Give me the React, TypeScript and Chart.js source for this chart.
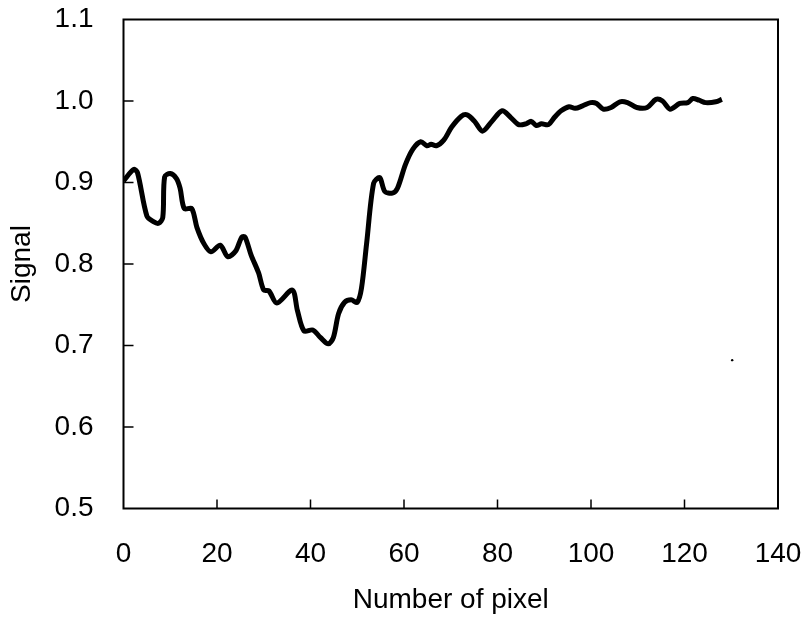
import React, { useEffect, useRef } from "react";
import { Chart, registerables } from "chart.js";

Chart.register(...registerables);

const pixelIndex = [
  0, 2.2, 3, 5, 6.4, 7.5, 8.4, 8.8, 10, 11.3, 12.1, 13, 14.6, 15.7, 17.2, 18.7,
  20.7, 22.3, 24, 25.3, 26, 27.3, 28.9, 30, 31.1, 32.8, 36.1, 37.2, 38.6, 40.5,
  42.1, 43.8, 44.9, 46, 47.3, 48.7, 50, 50.9, 52, 53.5, 54.8, 55.9, 57.5, 58.6,
  60.3, 61.9, 63.6, 64.9, 65.8, 66.9, 68.5, 70.2, 72.2, 73.5, 75.1, 76.8, 78.8,
  81, 82.8, 84.5, 86.1, 87.2, 88.3, 89.4, 90.9, 92.2, 93.6, 95.3, 96.6, 98.2,
  99.9, 101.2, 102.6, 104.3, 106.2, 107.8, 109.8, 112, 113.9, 115.3, 116.9, 119,
  120.7, 121.8, 123.1, 124.5, 126.7, 128,
];

const signal = [
  0.902, 0.916, 0.912, 0.859, 0.852, 0.85, 0.857, 0.907, 0.911, 0.905, 0.893,
  0.868, 0.868, 0.845, 0.825, 0.815, 0.823, 0.809, 0.816, 0.833, 0.833, 0.811,
  0.789, 0.768, 0.767, 0.752, 0.768, 0.743, 0.718, 0.719, 0.71, 0.702, 0.71,
  0.739, 0.753, 0.756, 0.753, 0.77, 0.825, 0.899, 0.906, 0.889, 0.887, 0.893,
  0.922, 0.941, 0.95, 0.945, 0.947, 0.945, 0.952, 0.968, 0.981, 0.983, 0.975,
  0.963, 0.975, 0.988, 0.98, 0.971, 0.972, 0.975, 0.97, 0.972, 0.971, 0.98,
  0.988, 0.993, 0.991, 0.994, 0.998, 0.997, 0.99, 0.992, 0.999, 0.998, 0.992,
  0.992, 1.002, 1.0, 0.99, 0.997, 0.998, 1.003, 1.001, 0.998, 0.999, 1.002,
];

const strayX = [130.2];
const strayY = [0.682];

const xTicks = [0, 20, 40, 60, 80, 100, 120, 140];
const yTicks = [0.5, 0.6, 0.7, 0.8, 0.9, 1.0, 1.1];

const FONT = "'Liberation Sans', Arial, sans-serif";

const framePlugin = {
  id: "frame",
  afterDraw(chart: any) {
    const { ctx, chartArea } = chart;
    const { left, right, top, bottom } = chartArea;
    const xs = chart.scales.x;
    const ys = chart.scales.y;
    ctx.save();
    ctx.strokeStyle = "#000";
    ctx.lineWidth = 2;
    ctx.strokeRect(left, top, right - left, bottom - top);
    ctx.lineWidth = 1.5;
    ctx.beginPath();
    for (const v of xTicks) {
      if (v === xTicks[0] || v === xTicks[xTicks.length - 1]) continue;
      const px = xs.getPixelForValue(v);
      ctx.moveTo(px, bottom);
      ctx.lineTo(px, bottom - 9);
    }
    for (const v of yTicks) {
      if (v === yTicks[0] || v === yTicks[yTicks.length - 1]) continue;
      const py = ys.getPixelForValue(v);
      ctx.moveTo(left, py);
      ctx.lineTo(left + 10, py);
    }
    ctx.stroke();
    ctx.restore();
  },
};

export default function App() {
  const canvasRef = useRef<HTMLCanvasElement | null>(null);

  useEffect(() => {
    const canvas = canvasRef.current;
    if (!canvas) return;
    const chart = new Chart(canvas, {
      type: "line",
      data: {
        datasets: [
          {
            data: pixelIndex.map((x, i) => ({ x, y: signal[i] })),
            borderColor: "#000",
            borderWidth: 5,
            pointRadius: 0,
            tension: 0.3,
            fill: false,
          },
          {
            data: strayX.map((x, i) => ({ x, y: strayY[i] })),
            showLine: false,
            pointRadius: 1.2,
            pointBackgroundColor: "#000",
            pointBorderWidth: 0,
          },
        ],
      },
      options: {
        responsive: false,
        animation: false,
        layout: { padding: { left: 0, top: 19.5, right: 27, bottom: 0 } },
        plugins: { legend: { display: false }, tooltip: { enabled: false } },
        scales: {
          x: {
            type: "linear",
            min: 0,
            max: 140,
            afterBuildTicks: (scale: any) => {
              scale.ticks = xTicks.map((v) => ({ value: v }));
            },
            afterFit: (scale: any) => {
              scale.height = 108.5;
              scale.paddingLeft = 0;
              scale.paddingRight = 0;
            },
            grid: { display: false, drawTicks: false },
            border: { display: false },
            ticks: {
              color: "#000",
              padding: 29,
              font: { family: FONT, size: 28 },
              maxRotation: 0,
              callback: (v: any) => String(v),
            },
            title: {
              display: true,
              text: "Number of pixel",
              color: "#000",
              font: { family: FONT, size: 28 },
              padding: { top: 0, bottom: 0 },
            },
          },
          y: {
            type: "linear",
            min: 0.5,
            max: 1.1,
            afterBuildTicks: (scale: any) => {
              scale.ticks = yTicks.map((v) => ({ value: v }));
            },
            afterFit: (scale: any) => {
              scale.width = 123.5;
              scale.paddingTop = 0;
              scale.paddingBottom = 0;
            },
            grid: { display: false, drawTicks: false },
            border: { display: false },
            ticks: {
              color: "#000",
              padding: 30,
              font: { family: FONT, size: 28 },
              callback: (v: any) => Number(v).toFixed(1),
            },
            title: {
              display: true,
              text: "Signal",
              color: "#000",
              font: { family: FONT, size: 28 },
              padding: { top: 5, bottom: 0 },
            },
          },
        },
      },
      plugins: [framePlugin],
    });
    return () => chart.destroy();
  }, []);

  return (
    <div style={{ position: "absolute", left: 0, top: 0, width: 805, height: 617, background: "#fff" }}>
      <canvas ref={canvasRef} width={805} height={617} />
    </div>
  );
}
